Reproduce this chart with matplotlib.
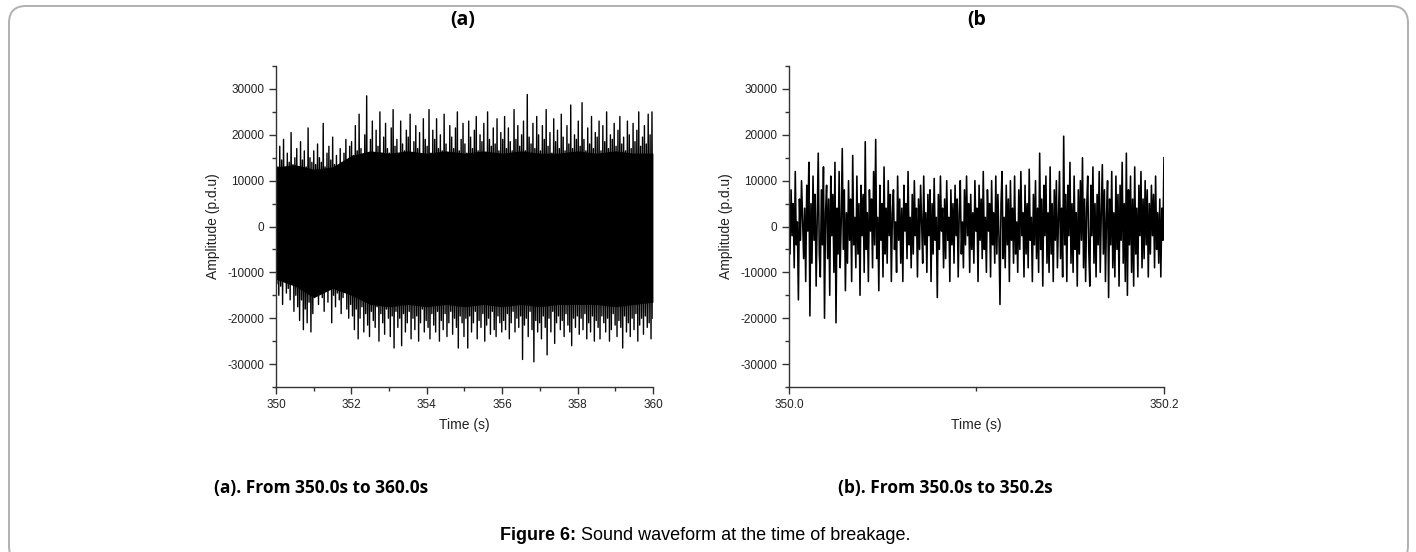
import numpy as np
import matplotlib
matplotlib.use("Agg")
import matplotlib.pyplot as plt
from matplotlib.patches import FancyBboxPatch
from matplotlib.ticker import MultipleLocator

# panel (a): 350.0 s - 360.0 s, positive / negative excursions of the waveform (20 per second)
a_range = (350.0, 360.0)
a_top = [
    15500, 13000, 17500, 14500, 19000, 12500, 16000, 14000, 20500, 13500, 15000, 17000, 12500, 18500, 14500, 16500, 13000, 21500, 15000, 14000,
    16500, 13500, 18000, 15000, 14000, 22500, 13000, 16000, 17500, 14500, 19500, 13500, 15500, 12000, 17000, 14000, 16000, 19000, 13500, 17500,
    18500, 15500, 22000, 16500, 24500, 17000, 15000, 20000, 28500, 16000, 19000, 23000, 15500, 21000, 17500, 25000, 16000, 19500, 22500, 17000,
    16000, 21500, 25500, 17500, 19000, 15500, 23000, 18000, 16500, 21000, 19500, 24500, 16000, 18500, 22000, 17000, 20500, 15500, 23500, 19000,
    17500, 25500, 16000, 21000, 19000, 23500, 17000, 20000, 16500, 24500, 18000, 15500, 22000, 19500, 17000, 21500, 25000, 16500, 19000, 22500,
    18000, 16000, 23000, 19500, 17000, 21000, 24000, 16500, 20000, 18500, 22500, 16000, 25000, 19000, 17500, 21500, 18000, 23500, 16500, 20500,
    19000, 24000, 17000, 21500, 18500, 16500, 25500, 19000, 22000, 17500, 20000, 23000, 16500, 28800, 19500, 18000, 22500, 17000, 24000, 20000,
    16500, 22000, 19000, 25500, 17500, 20500, 16000, 23500, 18500, 21000, 17000, 24500, 19500, 16500, 22000, 18000, 26500, 17000, 20000, 19000,
    23000, 17500, 27000, 19000, 16500, 21500, 18000, 24000, 17000, 20500, 19500, 23000, 16500, 22000, 18500, 25000, 17000, 20000, 19000, 22500,
    17500, 21000, 24000, 18000, 19500, 16500, 23000, 20000, 17000, 22500, 18500, 21000, 25000, 17500, 19500, 22000, 18000, 24500, 20000, 25000,
]
a_bottom = [
    -12500, -15000, -13000, -17000, -12000, -14500, -13500, -16000, -12500, -18500, -15000, -17500, -20500, -16000, -22500, -18000, -21000, -16500, -23000, -19000,
    -15500, -14000, -17000, -13000, -15500, -18500, -14000, -16500, -13500, -21000, -15000, -17500, -14500, -16000, -19000, -15500, -14000, -18000, -20000, -17000,
    -19500, -22500, -18000, -24500, -20000, -17500, -23000, -19000, -21500, -24000, -18500, -20500, -22000, -17500, -25000, -19000, -21000, -23500, -18000, -20000,
    -24000, -19500, -26500, -18500, -22000, -20000, -26000, -19000, -23000, -21000, -18500, -24500, -20000, -22500, -19500, -25000, -21000, -18000, -23000, -20500,
    -22000, -24500, -19000, -21500, -23000, -18500, -25000, -20500, -22500, -19000, -24000, -21000, -18500, -23500, -20000, -22000, -26500, -19500, -21000, -24000,
    -20000, -26500, -19500, -23000, -21000, -18500, -24500, -20500, -22000, -19000, -25000, -21500, -20000, -23500, -18500, -22500, -24000, -19500, -21000, -23000,
    -20500, -22500, -19000, -24500, -21000, -18500, -23000, -20000, -22000, -19500, -29000, -21500, -20000, -24000, -18500, -22500, -29500, -20500, -23000, -21000,
    -24500, -19500, -22000, -28000, -20000, -23000, -18500, -25500, -21000, -19500, -22500, -20500, -24000, -19000, -21500, -23000, -26000, -20000, -22000, -19500,
    -23500, -20000, -22500, -19000, -24500, -21000, -23000, -19500, -25000, -20500, -22000, -24500, -19500, -21000, -23000, -20000, -25000, -22500, -19000, -21500,
    -24000, -20500, -22000, -26500, -19500, -23000, -21000, -24000, -20000, -22500, -19000, -25000, -21500, -20000, -23500, -19500, -22000, -21000, -24500, -20000,
]
# saturated part of the band, read every 0.5 s
a_core_hi = [13000, 13500, 12500, 13000, 15500, 16500, 16000, 16500, 16000, 16500, 16000,
             16500, 16000, 16500, 16000, 16000, 16500, 16000, 16500, 16000, 16000]
a_core_lo = [-11500, -13000, -15500, -13500, -15000, -17000, -17500, -17000, -17500, -17000, -17500,
             -17000, -17500, -17000, -17500, -17000, -17000, -17000, -17500, -17000, -16500]

# panel (b): 350.0 s - 350.2 s, sample values
b_range = (350.0, 350.2)
b_amp = [
    3000, -6000, 8000, -2000, 5000, -9000, 12000, -4000, 1000, -16000, 6000, -3000, 10000, 2000, -7000, 4000, -12000, 9000, -1000, 14000,
    -19500, 5000, -8000, 11000, -3000, 7000, -13000, 2000, 16000, -6000, -11000, 8000, -4000, 13000, -20000, 3000, 9000, -7000, 6000, -15000,
    11000, -2000, 7000, -10000, 14000, -21000, 4000, -6000, 12000, -9000, 1000, 17000, -5000, 8000, -14000, 3000, -8000, 10000, -3000, 6000,
    -12000, 15500, -4000, 2000, -9000, 11000, -6000, 5000, -15000, 9000, -2000, 7000, -10000, 18500, -5000, 3000, -12000, 8000, -1000, 6000,
    -9000, 12000, -4000, 19000, -7000, 2000, -14000, 9000, -3000, 5000, -11000, 13000, -6000, 4000, -8000, 10000, -2000, 7000, -12000, 3000,
    8000, -5000, 1000, -10000, 11000, -3000, 6000, -8000, 4000, -12000, 9000, -1000, 5000, -7000, 12000, -4000, 2000, -9000, 7000, -6000,
    10000, -2000, 4000, -11000, 6000, -5000, 9000, 1000, -8000, 11000, -4000, 3000, -10000, 7000, -2000, 8000, -12000, 5000, -6000, 10500,
    -3000, 2000, -15500, 7000, -5000, 11000, -1000, 4000, -9000, 6000, -7000, 10000, -3000, 2000, -12000, 8000, -4000, 5000, -8000, 9000,
    -2000, 6000, -11000, 3000, 10000, -6000, 1000, -9000, 8000, -4000, 11000, -2000, 5000, -10000, 7000, -5000, 3000, -8000, 10000, -1000,
    4000, -12000, 9000, -3000, 6000, -7000, 12000, -5000, 2000, -10000, 8000, -1000, 5000, -11000, 10000, -4000, 3000, -8000, 11000, -6000,
    7000, -2000, -17000, 5000, 12000, -7000, 2000, -9000, 9000, -4000, 6000, -12000, 10000, -3000, 4000, -8000, 11000, -6000, 1000, -10000,
    8000, -5000, 12000, -2000, 3000, -11000, 9000, -6000, 5000, -9000, 12500, -3000, 2000, -12000, 7000, -4000, 10000, -7000, 4000, -10000,
    16000, -5000, 6000, -13000, 9000, -2000, 11000, -8000, 3000, -10000, 13000, -6000, 5000, -12000, 8000, -3000, 10000, -9000, 2000, 12000,
    -7000, 4000, -11000, 19700, -4000, 7000, -12000, 9000, -2000, 14000, -8000, 5000, -10000, 11000, -5000, 3000, -13000, 8000, -6000, 10000,
    -3000, 15000, -9000, 6000, -12000, 4000, 11000, -5000, -13000, 9000, -2000, 13000, -8000, 5000, -11000, 7000, -4000, 12000, -10000, 3000,
    13500, -6000, 8000, -12000, 2000, 10000, -15500, 6000, -4000, 12000, -9000, 3000, -11000, 11000, -5000, 7000, -13000, 9000, -3000, 14000,
    -8000, 5000, -12000, 16000, -15000, 8000, -4000, 11000, -10000, 6000, -13000, 13000, -6000, 4000, -11000, 9000, -2000, 12000, -9000, 6000,
    -7000, 10000, -4000, 8000, -11000, 5000, -6000, 9000, -2000, 7000, -9000, 11000, -5000, 3000, -8000, 6000, -11000, 4000, -3000, 15000,
]

titles = ["(a)", "(b"]
captions = ["(a). From 350.0s to 360.0s", "(b). From 350.0s to 350.2s"]
fig_caption_bold = "Figure 6:"
fig_caption = " Sound waveform at the time of breakage."

plt.rcParams["font.family"] = ["Liberation Sans", "DejaVu Sans"]
plt.rcParams["axes.unicode_minus"] = False

fig = plt.figure(figsize=(14.16, 5.52), dpi=100)

# rounded frame around the figure
frame = FancyBboxPatch((9 / 1416, -0.02), 1399 / 1416, 1.0 - 6 / 552 + 0.02,
                       boxstyle="round,pad=0,rounding_size=0.012",
                       transform=fig.transFigure, facecolor="none",
                       edgecolor="#b0b0b0", linewidth=1.4, mutation_aspect=1416 / 552)
fig.patches.append(frame)

ax_a = fig.add_axes([0.1949, 0.2989, 0.2662, 0.5815])
ax_b = fig.add_axes([0.5572, 0.2989, 0.2648, 0.5815])

# saturated band + interleaved positive / negative excursions
tc = np.linspace(a_range[0], a_range[1], len(a_core_hi))
ax_a.fill_between(tc, a_core_lo, a_core_hi, color="black", lw=0)
ya = np.ravel(np.column_stack([a_top, a_bottom]))
ta = np.linspace(a_range[0], a_range[1], len(ya))
ax_a.plot(ta, ya, color="black", lw=1.0)

tb = np.linspace(b_range[0], b_range[1], len(b_amp))
ax_b.plot(tb, b_amp, color="black", lw=1.15)

for ax in (ax_a, ax_b):
    ax.set_ylim(-35000, 35000)
    ax.yaxis.set_major_locator(MultipleLocator(10000))
    ax.yaxis.set_minor_locator(MultipleLocator(5000))
    for s in ("top", "right"):
        ax.spines[s].set_visible(False)
    for s in ("left", "bottom"):
        ax.spines[s].set_color("#333333")
        ax.spines[s].set_linewidth(1.0)
    ax.tick_params(which="major", direction="out", length=5, width=1, color="#333333",
                   labelsize=8.5, labelcolor="#222222")
    ax.tick_params(which="minor", direction="out", length=3, width=1, color="#333333")
    ax.set_ylabel("Amplitude (p.d.u)", fontsize=10, color="#222222", labelpad=5)
    ax.set_xlabel("Time (s)", fontsize=10, color="#222222", labelpad=5)

ax_a.set_xlim(*a_range)
ax_a.xaxis.set_major_locator(MultipleLocator(2))
ax_a.xaxis.set_minor_locator(MultipleLocator(1))
ax_a.xaxis.set_major_formatter(lambda v, p: f"{v:.0f}")

ax_b.set_xlim(*b_range)
ax_b.set_xticks([350.0, 350.2])
ax_b.set_xticklabels(["350.0", "350.2"])
ax_b.set_xticks([350.1], minor=True)

bold_font = ["Open Sans", "DejaVu Sans"]
fig.text(463 / 1416, 1 - 20 / 552, titles[0], ha="center", va="center",
         fontsize=14, fontweight="bold", family=bold_font)
fig.text(977 / 1416, 1 - 20 / 552, titles[1], ha="center", va="center",
         fontsize=14, fontweight="bold", family=bold_font)
fig.text(321 / 1416, 1 - 488 / 552, captions[0], ha="center", va="center",
         fontsize=12.5, fontweight="bold", family=bold_font)
fig.text(945 / 1416, 1 - 488 / 552, captions[1], ha="center", va="center",
         fontsize=12.5, fontweight="bold", family=bold_font)

cap_y = 1 - 535 / 552
t1 = fig.text(500 / 1416, cap_y, fig_caption_bold, ha="left", va="center",
              fontsize=13, fontweight="bold", family=["Liberation Sans", "DejaVu Sans"])
fig.canvas.draw()
bb = t1.get_window_extent()
fig.text(bb.x1 / 1416, cap_y, fig_caption, ha="left", va="center",
         fontsize=13, family=["Liberation Sans", "DejaVu Sans"])

fig.savefig("out.png", dpi=100)
